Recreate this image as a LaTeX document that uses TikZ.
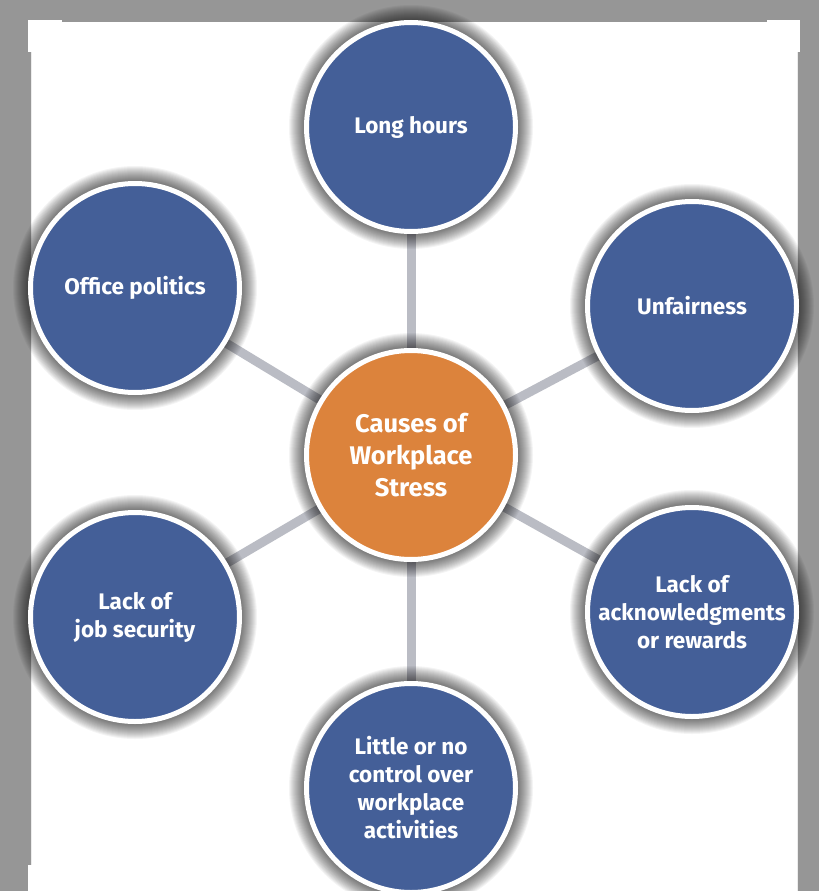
\documentclass[tikz,border=0pt]{standalone}
\usepackage{fontspec}
\setmainfont{Fira Sans}
\begin{document}
\begin{tikzpicture}[x=1pt,y=-1pt,
  link/.style={line width=9pt,draw=linkgray},
  cause/.style={circle,fill=causeblue,draw=white,line width=5pt,minimum size=209pt,inner sep=0pt,
     text=white,font=\bfseries\fontsize{22.5}{28}\selectfont,align=center},
  hub/.style={cause,fill=hubor,font=\bfseries\fontsize{25.5}{32}\selectfont},
  cornermark/.style={fill=white,draw=none}]
\definecolor{bggray}{RGB}{150,150,150}
\definecolor{causeblue}{RGB}{68,95,152}
\definecolor{hubor}{RGB}{220,131,60}
\definecolor{linkgray}{RGB}{186,188,196}
\useasboundingbox (0,0) rectangle (819,891);
\fill[bggray] (0,0) rectangle (819,891);
\fill[white] (31,22) rectangle (797,891);
\draw[white!85!gray,line width=1pt] (31,52) -- (31,865);
\draw[white!85!gray,line width=1pt] (797,52) -- (797,891);
% corner marks
\fill[cornermark] (28,20) rectangle (62,25);
\fill[cornermark] (28,20) rectangle (34,52);
\fill[cornermark] (767,20) rectangle (800,25);
\fill[cornermark] (795,20) rectangle (800,52);
\fill[cornermark] (28,865) rectangle (34,891);
% coordinates
\coordinate (c0) at (411,455);
\coordinate (c1) at (411,127);
\coordinate (c2) at (692,306);
\coordinate (c3) at (692,612);
\coordinate (c4) at (411,788);
\coordinate (c5) at (135,617);
\coordinate (c6) at (135,288);
% connectors
\foreach \i in {1,...,6} \draw[link] (c0) -- (c\i);
% shadows
\foreach \i in {0,...,6}
  \foreach \r in {107,108,...,122}
    \fill[black,opacity=0.045] (c\i) circle (\r);
% circles
\node[hub] (hub) at (c0) {Causes of\\Workplace\\Stress};
\node[cause] (long) at (c1) {Long hours};
\node[cause] (unf) at (c2) {Unfairness};
\node[cause] (ack) at (c3) {Lack of\\acknowledgments\\or rewards};
\node[cause] (ctrl) at (c4) {Little or no\\control over\\workplace\\activities};
\node[cause] (job) at (c5) {Lack of\\job security};
\node[cause] (off) at (c6) {Office politics};
\end{tikzpicture}
\end{document}
